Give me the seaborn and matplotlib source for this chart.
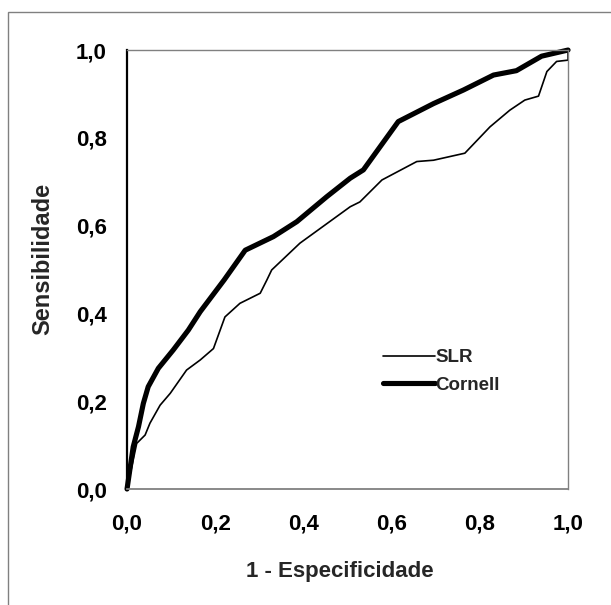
import matplotlib
matplotlib.use("Agg")
import matplotlib.pyplot as plt
import pandas as pd
import seaborn as sns
from matplotlib.patches import Rectangle

# Curvas ROC
cornell_x = [0, 0.014, 0.026, 0.037, 0.048, 0.071, 0.105, 0.139, 0.166, 0.22, 0.268, 0.332,
             0.385, 0.453, 0.506, 0.536, 0.615, 0.695, 0.763, 0.831, 0.883, 0.94, 1.0]
cornell_y = [0, 0.096, 0.142, 0.195, 0.233, 0.275, 0.317, 0.362, 0.404, 0.476, 0.544, 0.575,
             0.609, 0.666, 0.708, 0.727, 0.837, 0.878, 0.909, 0.943, 0.953, 0.986, 1.0]

slr_x = [0, 0.022, 0.041, 0.052, 0.075, 0.098, 0.135, 0.166, 0.196, 0.222, 0.256, 0.302, 0.317,
         0.328, 0.392, 0.506, 0.528, 0.578, 0.657, 0.695, 0.766, 0.823, 0.868, 0.902, 0.933,
         0.952, 0.974, 1.0, 1.0]
slr_y = [0, 0.104, 0.123, 0.150, 0.191, 0.218, 0.271, 0.294, 0.320, 0.392, 0.423, 0.446, 0.476,
         0.499, 0.560, 0.643, 0.654, 0.704, 0.746, 0.749, 0.765, 0.825, 0.863, 0.886, 0.895,
         0.951, 0.974, 0.977, 1.0]

tick_values = [0.0, 0.2, 0.4, 0.6, 0.8, 1.0]
tick_labels = ["0,0", "0,2", "0,4", "0,6", "0,8", "1,0"]

slr_df = pd.DataFrame({"fpr": slr_x, "tpr": slr_y})
cornell_df = pd.DataFrame({"fpr": cornell_x, "tpr": cornell_y})

sns.set_style("white")
plt.rcParams["font.family"] = ["Liberation Sans", "DejaVu Sans"]
plt.rcParams["font.weight"] = "bold"

fig = plt.figure(figsize=(6.11, 6.05), dpi=100)
ax = fig.add_axes([0.2079, 0.1917, 0.7218, 0.7256])

# Marco exterior
fig.add_artist(Rectangle((0.0131, -0.02), 1.05, 0.9802 + 0.02, transform=fig.transFigure,
                         fill=False, edgecolor="#808080", linewidth=1.0))

sns.lineplot(data=slr_df, x="fpr", y="tpr", ax=ax, color="black", linewidth=1.2,
             estimator=None, sort=False, label="SLR", clip_on=False)
sns.lineplot(data=cornell_df, x="fpr", y="tpr", ax=ax, color="black", linewidth=3.7,
             estimator=None, sort=False, label="Cornell", clip_on=False,
             solid_capstyle="round")

ax.set_xlim(0, 1)
ax.set_ylim(0, 1)
ax.set_xticks(tick_values)
ax.set_yticks(tick_values)
ax.set_xticklabels(tick_labels)
ax.set_yticklabels(tick_labels)
ax.tick_params(axis="both", direction="out", length=14, width=1.5, color="black",
               labelsize=16, labelcolor="black")
ax.tick_params(axis="y", pad=0.5)
ax.tick_params(axis="x", pad=3.5)
for lab in ax.get_xticklabels() + ax.get_yticklabels():
    lab.set_fontweight("bold")

for side in ["top", "right", "bottom"]:
    ax.spines[side].set_color("#808080")
    ax.spines[side].set_linewidth(1.0)
ax.spines["bottom"].set_linewidth(1.3)
ax.spines["left"].set_color("black")
ax.spines["left"].set_linewidth(1.6)

ax.set_xlabel("1 - Especificidade", fontsize=16, fontweight="bold")
ax.set_ylabel("Sensibilidade", fontsize=17, fontweight="bold")
ax.xaxis.set_label_coords(0.483, -0.165)
ax.yaxis.set_label_coords(-0.165, 0.523)

ax.legend(loc="center left", bbox_to_anchor=(0.58, 0.268), frameon=False,
          handlelength=2.8, handletextpad=0.0, borderpad=0, borderaxespad=0,
          labelspacing=0.55, prop={"size": 13.5, "weight": "bold"})

plt.savefig("out.png", dpi=100)
